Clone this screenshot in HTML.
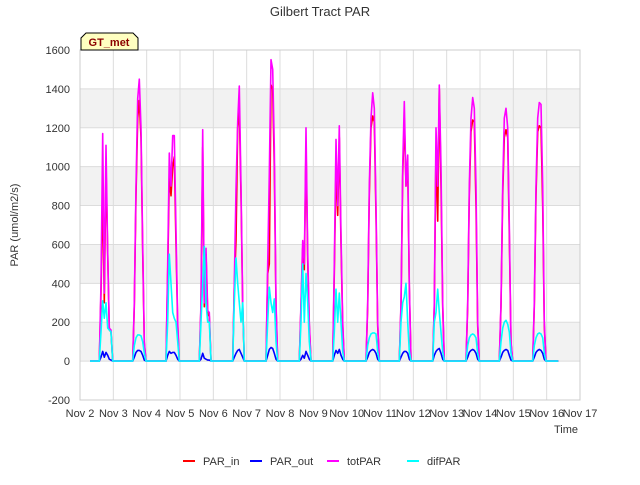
<!DOCTYPE html>
<html><head><meta charset="utf-8"><style>
body{margin:0;background:#fff;font-family:"Liberation Sans",sans-serif;}
svg text{font-family:"Liberation Sans",sans-serif;}
</style></head><body>
<svg id="chart" width="640" height="480">
<rect width="640" height="480" fill="#fff"/>
<text x="320" y="16" text-anchor="middle" font-size="13" fill="#333">Gilbert Tract PAR</text>
<g id="grid"></g>
<g id="series"></g>
<g id="axes"></g>
<text transform="translate(18,225) rotate(-90)" text-anchor="middle" font-size="11" fill="#333">PAR (umol/m2/s)</text>
<text x="566" y="433" text-anchor="middle" font-size="11" fill="#333">Time</text>
<g>
<path d="M81,50 L81,38 L86,33 L133,33 L138,38 L138,50 Z" fill="#ffffc0" stroke="#000" stroke-width="1"/>
<text x="109" y="46" text-anchor="middle" font-size="11" font-weight="bold" fill="#8b0000">GT_met</text>
</g>
<g id="legend"></g>
</svg>
<script>
const tickLabels=["Nov 2","Nov 3","Nov 4","Nov 5","Nov 6","Nov 7","Nov 8","Nov 9","Nov 10","Nov 11","Nov 12","Nov 13","Nov 14","Nov 15","Nov 16","Nov 17"];
const yTicks=[-200,0,200,400,600,800,1000,1200,1400,1600];
const totPAR=[
[0,400,1170,350,1110,560,170,160,0,0],
[0,300,900,1350,1450,1200,600,100,0,0],
[0,500,1070,900,1160,1160,670,200,0,0],
[0,300,1190,300,580,260,250,0,0,0],
[0,400,880,1230,1415,900,300,0,0,0],
[0,500,960,1550,1500,1100,300,0,0,0],
[0,300,620,500,1200,560,200,0,0,0],
[0,500,1140,800,1210,650,200,0,0,0],
[0,300,900,1250,1380,1300,800,200,0,0],
[0,300,1000,1335,900,1060,400,0,0,0],
[0,300,1200,900,1420,1000,300,0,0,0],
[0,300,900,1250,1355,1300,900,200,0,0],
[0,300,900,1250,1300,1200,700,100,0,0],
[0,300,900,1250,1330,1320,900,200,0,0]];
const PAR_in=[
[0,350,900,300,1000,550,160,150,0,0],
[0,280,850,1250,1340,1150,560,90,0,0],
[0,450,950,850,1000,1050,600,180,0,0],
[0,280,1100,280,550,240,230,0,0,0],
[0,380,620,1200,1300,850,280,0,0,0],
[0,450,500,1420,1400,1000,280,0,0,0],
[0,280,580,470,1100,520,180,0,0,0],
[0,450,1000,750,1150,600,180,0,0,0],
[0,280,850,1200,1260,1230,750,180,0,0],
[0,280,950,1250,900,1000,380,0,0,0],
[0,280,1100,720,1400,900,280,0,0,0],
[0,280,850,1180,1240,1230,800,180,0,0],
[0,280,850,1150,1190,1150,650,90,0,0],
[0,280,850,1180,1210,1200,800,180,0,0]];
const PAR_out=[
[0,20,50,20,45,30,10,5,0,0],
[0,20,45,55,55,50,30,5,0,0],
[0,30,50,40,45,45,30,10,0,0],
[0,10,40,15,10,5,5,0,0,0],
[0,20,40,55,60,40,20,0,0,0],
[0,30,60,70,65,40,10,0,0,0],
[0,10,30,15,50,30,10,0,0,0],
[0,30,55,40,60,30,10,0,0,0],
[0,20,45,55,60,55,40,10,0,0],
[0,20,40,50,50,40,10,0,0,0],
[0,30,50,60,65,40,10,0,0,0],
[0,20,45,55,60,55,40,10,0,0],
[0,20,45,55,60,55,30,5,0,0],
[0,20,45,55,60,55,40,10,0,0]];
const difPAR=[
[0,150,310,220,300,170,160,150,0,0],
[0,80,120,135,135,130,100,40,0,0],
[0,200,550,400,250,220,200,100,0,0],
[0,200,400,590,300,200,200,0,0,0],
[0,300,530,400,300,200,300,0,0,0],
[0,200,380,300,250,320,100,0,0,0],
[0,200,500,200,450,300,100,0,0,0],
[0,150,370,200,350,200,50,0,0,0],
[0,80,120,140,145,145,140,50,0,0],
[0,200,300,330,400,200,50,0,0,0],
[0,200,250,370,250,150,50,0,0,0],
[0,80,120,135,140,135,120,40,0,0],
[0,100,170,200,210,190,150,40,0,0],
[0,80,120,140,145,140,120,40,0,0]];
const seriesNames=["PAR_in","PAR_out","totPAR","difPAR"];
const seriesColors=["#ff0000","#0000ff","#ff00ff","#00ffff"];

const X0=80,X1=580,Y0=400,Y1=50,dMin=2,dMax=17,vMin=-200,vMax=1600;
const xs=d=>X0+(d-dMin)/(dMax-dMin)*(X1-X0);
const ys=v=>Y0-(v-vMin)/(vMax-vMin)*(Y0-Y1);
const NS="http://www.w3.org/2000/svg";
function mk(tag,attrs,parent){const e=document.createElementNS(NS,tag);for(const k in attrs)e.setAttribute(k,attrs[k]);parent.appendChild(e);return e;}
const grid=document.getElementById('grid'),axes=document.getElementById('axes'),ser=document.getElementById('series'),leg=document.getElementById('legend');
for(let i=0;i<yTicks.length-1;i++){
  const lo=yTicks[i],hi=yTicks[i+1];
  if(lo>=0 && (lo/200)%2===0){
    const r=mk('rect',{x:X0,y:ys(hi),width:X1-X0,height:ys(lo)-ys(hi),fill:'#f2f2f2'},grid);
    
    
  }
}
yTicks.forEach(v=>{
  const l=mk('line',{x1:X0,x2:X1,y1:ys(v),y2:ys(v),stroke:'#dcdcdc','stroke-width':1},grid);
  
  
  const t=mk('text',{x:X0-10,y:ys(v)+4,'text-anchor':'end','font-size':11,fill:'#333'},axes);
  t.textContent=v;
  
  
});
tickLabels.forEach((s,i)=>{
  const x=xs(dMin+i);
  const l=mk('line',{x1:x,x2:x,y1:Y1,y2:Y0,stroke:'#dcdcdc','stroke-width':1},grid);
  
  
  const t=mk('text',{x:x,y:Y0+17,'text-anchor':'middle','font-size':11,fill:'#333'},axes);
  t.textContent=s;
  
  
});
const frame=mk('rect',{x:X0,y:Y1,width:X1-X0,height:Y0-Y1,fill:'none',stroke:'#ccc'},axes);


[PAR_in,PAR_out,totPAR,difPAR].forEach((data,si)=>{
  let pts=[[xs(2.3),ys(0)]];
  data.forEach((day,k)=>{day.forEach((v,i)=>{pts.push([xs(dMin+k+0.58+0.05*i),ys(v)]);});});
  pts.push([xs(16.35),ys(0)]);
  const p=mk('polyline',{points:pts.map(p=>p[0].toFixed(1)+','+p[1].toFixed(1)).join(' '),fill:'none',stroke:seriesColors[si],'stroke-width':1.6,'stroke-linejoin':'round'},ser);
  
  
});
const legX=[183,250,327,407];
seriesNames.forEach((n,i)=>{
  const g=mk('g',{},leg);
  
  
  mk('line',{x1:legX[i],x2:legX[i]+12,y1:461,y2:461,stroke:seriesColors[i],'stroke-width':2},g);
  const t=mk('text',{x:legX[i]+20,y:465,'font-size':11,fill:'#333'},g);
  t.textContent=n;
});
</script>
</body></html>
